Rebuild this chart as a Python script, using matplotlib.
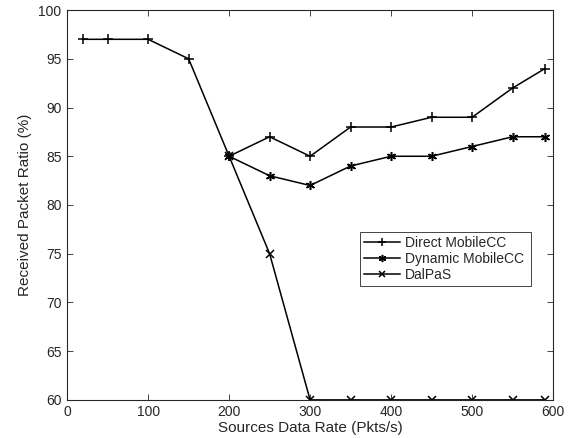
import matplotlib
matplotlib.use("Agg")
import matplotlib.pyplot as plt

plt.rcParams['font.family'] = ['Liberation Sans', 'DejaVu Sans']

# data
x_direct = [20, 50, 100, 150, 200, 250, 300, 350, 400, 450, 500, 550, 590]
y_direct = [97, 97, 97, 95, 85, 87, 85, 88, 88, 89, 89, 92, 94]

x_dynamic = [200, 250, 300, 350, 400, 450, 500, 550, 590]
y_dynamic = [85, 83, 82, 84, 85, 85, 86, 87, 87]

x_dalpas = [200, 250, 300, 350, 400, 450, 500, 550, 590]
y_dalpas = [85, 75, 60, 60, 60, 60, 60, 60, 60]

xticks = [0, 100, 200, 300, 400, 500, 600]
yticks = [60, 65, 70, 75, 80, 85, 90, 95, 100]

grey = '#262626'


def main():
    fig = plt.figure(figsize=(5.69, 4.38), dpi=100)
    ax = fig.add_axes([0.118, 0.087, 0.854, 0.89])

    ax.plot(x_direct, y_direct, color='black', lw=1.1, marker='+', ms=7.5, mew=1.1,
            label='Direct MobileCC')
    ax.plot(x_dynamic, y_dynamic, color='black', lw=1.1, marker=(6, 2, 0), ms=6.5, mew=1.1,
            label='Dynamic MobileCC')
    ax.plot(x_dalpas, y_dalpas, color='black', lw=1.1, marker='x', ms=5.5, mew=1.1,
            label='DalPaS')

    ax.set_xlim(0, 600)
    ax.set_ylim(60, 100)
    ax.set_xticks(xticks)
    ax.set_yticks(yticks)
    ax.tick_params(direction='in', top=True, right=True, labelsize=10, length=4,
                   width=0.6, pad=4, colors=grey)
    for s in ax.spines.values():
        s.set_linewidth(0.8)
        s.set_color(grey)

    ax.set_xlabel('Sources Data Rate (Pkts/s)', fontsize=11, labelpad=1, color=grey)
    ax.set_ylabel('Received Packet Ratio (%)', fontsize=11, labelpad=5, color=grey)

    leg = ax.legend(loc='lower left', bbox_to_anchor=(0.603, 0.292, 0.352, 0.131),
                    mode='expand', fontsize=10, fancybox=False, framealpha=1,
                    edgecolor=grey, borderpad=0.3, labelspacing=0.15,
                    handlelength=2.6, handletextpad=0.3, borderaxespad=0,
                    markerscale=0.8)
    leg.get_frame().set_linewidth(0.6)
    for t in leg.get_texts():
        t.set_color(grey)

    fig.savefig('out.png', dpi=100)


if __name__ == '__main__':
    main()
